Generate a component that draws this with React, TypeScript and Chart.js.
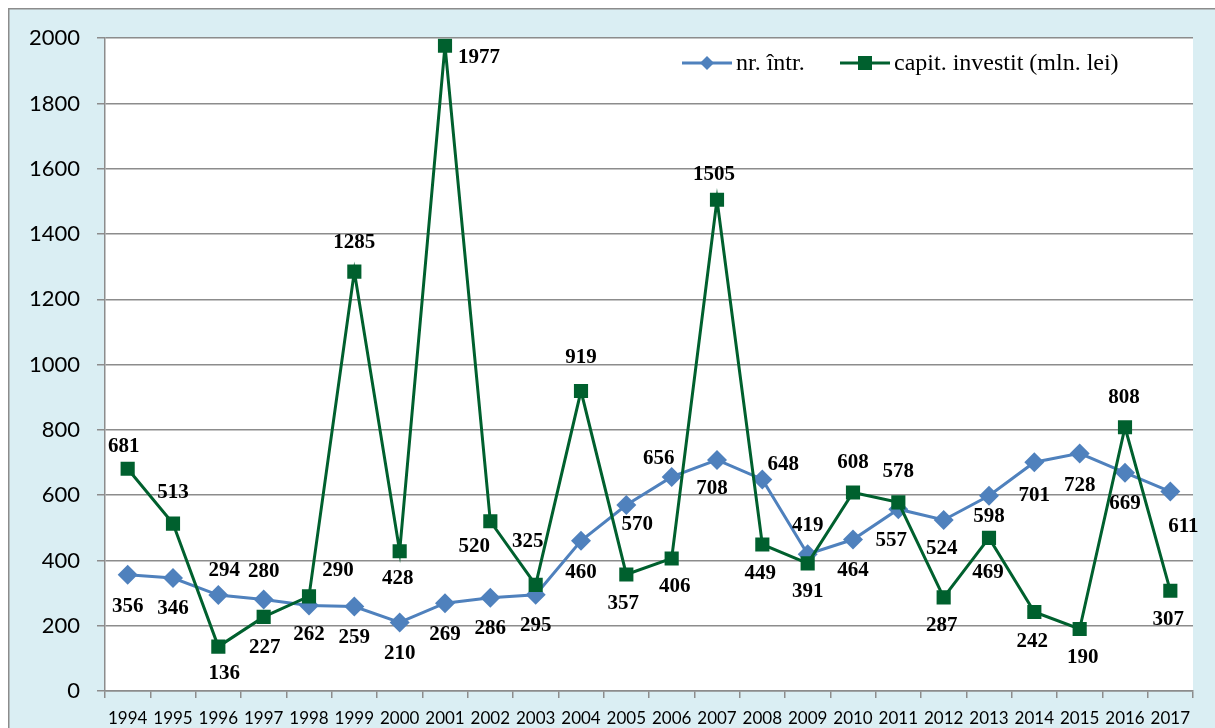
import { useEffect, useRef } from 'react';
import { Chart, registerables } from 'chart.js';

Chart.register(...registerables);

const years = ['1994', '1995', '1996', '1997', '1998', '1999', '2000', '2001', '2002', '2003', '2004', '2005', '2006', '2007', '2008', '2009', '2010', '2011', '2012', '2013', '2014', '2015', '2016', '2017'];
const nrIntr = [356, 346, 294, 280, 262, 259, 210, 269, 286, 295, 460, 570, 656, 708, 648, 419, 464, 557, 524, 598, 701, 728, 669, 611];
const capitInvestit = [681, 513, 136, 227, 290, 1285, 428, 1977, 520, 325, 919, 357, 406, 1505, 449, 391, 608, 578, 287, 469, 242, 190, 808, 307];
const seriesNames = ['nr. într.', 'capit. investit (mln. lei)'];
const yMin = 0;
const yMax = 2000;
const yStep = 200;

// label placement relative to each point [dx, dy]
const nrLabelOffsets: [number, number][] = [
  [0, 32], [0, 31], [6, -24], [0, -28], [0, 29], [0, 31], [0, 31], [0, 31], [0, 31], [0, 31],
  [0, 32], [11, 20], [-13, -18], [-5, 29], [21, -15], [0, -29], [0, 31], [-7, 31], [-2, 29], [0, 21],
  [0, 33], [0, 32], [0, 31], [13, 35],
];
const capLabelOffsets: [number, number][] = [
  [-4, -22], [0, -31], [6, 27], [1, 31], [29, -26], [0, -29], [-2, 27], [34, 12], [-16, 25], [-8, -43],
  [0, -33], [-3, 29], [3, 28], [-3, -25], [-2, 29], [0, 28], [0, -30], [0, -31], [-2, 28], [-1, 35],
  [-2, 30], [3, 29], [-1, -30], [-2, 29],
];

const BLUE = '#4F81BD';
const GREEN = '#00602E';
const GRID = '#8c8c8c';
const BG = '#DAEEF3';

const frame = {
  id: 'frame',
  beforeDraw(chart: any) {
    const { ctx, chartArea, width, height } = chart;
    ctx.save();
    ctx.fillStyle = BG;
    ctx.fillRect(0, 0, width, height);
    ctx.fillStyle = '#ffffff';
    ctx.fillRect(chartArea.left, chartArea.top, chartArea.right - chartArea.left, chartArea.bottom - chartArea.top);
    ctx.strokeStyle = GRID;
    ctx.lineWidth = 1.5;
    ctx.beginPath();
    ctx.moveTo(0, 0.75);
    ctx.lineTo(width, 0.75);
    ctx.moveTo(0.75, 0);
    ctx.lineTo(0.75, height);
    ctx.stroke();
    ctx.restore();
  },
};

const valueLabels = {
  id: 'valueLabels',
  afterDatasetsDraw(chart: any) {
    const { ctx } = chart;
    ctx.save();
    ctx.font = 'bold 21px "Liberation Serif", "Times New Roman", serif';
    ctx.fillStyle = '#000000';
    ctx.textAlign = 'center';
    ctx.textBaseline = 'middle';
    chart.data.datasets.forEach((ds: any, di: number) => {
      const meta = chart.getDatasetMeta(di);
      const offs: [number, number][] = ds.labelOffsets;
      meta.data.forEach((el: any, i: number) => {
        const [dx, dy] = offs[i] || [0, -25];
        ctx.fillText(String(ds.data[i]), el.x + dx, el.y + dy);
      });
    });
    ctx.restore();
  },
};

const customLegend = {
  id: 'customLegend',
  afterDraw(chart: any) {
    const { ctx } = chart;
    const y = 55;
    ctx.save();
    ctx.font = '24px "Liberation Serif", "Times New Roman", serif';
    ctx.textBaseline = 'middle';
    ctx.textAlign = 'left';
    // blue
    ctx.strokeStyle = BLUE;
    ctx.lineWidth = 3;
    ctx.beginPath();
    ctx.moveTo(674, y);
    ctx.lineTo(724, y);
    ctx.stroke();
    ctx.fillStyle = BLUE;
    ctx.beginPath();
    ctx.moveTo(699, y - 7);
    ctx.lineTo(706, y);
    ctx.lineTo(699, y + 7);
    ctx.lineTo(692, y);
    ctx.closePath();
    ctx.fill();
    ctx.fillStyle = '#000000';
    ctx.fillText(seriesNames[0], 728, y + 1);
    // green
    ctx.strokeStyle = GREEN;
    ctx.beginPath();
    ctx.moveTo(832, y);
    ctx.lineTo(882, y);
    ctx.stroke();
    ctx.fillStyle = GREEN;
    ctx.fillRect(850, y - 7, 14, 14);
    ctx.fillStyle = '#000000';
    ctx.fillText(seriesNames[1], 886, y + 1);
    ctx.restore();
  },
};

export default function App() {
  const ref = useRef<HTMLCanvasElement | null>(null);
  useEffect(() => {
    if (!ref.current) return;
    const chart = new Chart(ref.current, {
      type: 'line',
      data: {
        labels: years,
        datasets: [
          {
            label: seriesNames[1],
            data: capitInvestit,
            borderColor: GREEN,
            backgroundColor: GREEN,
            borderWidth: 3,
            pointStyle: 'rect',
            pointRadius: 10,
            pointBackgroundColor: GREEN,
            pointBorderColor: GREEN,
            pointBorderWidth: 0,
            tension: 0,
            labelOffsets: capLabelOffsets,
          } as any,
          {
            label: seriesNames[0],
            data: nrIntr,
            borderColor: BLUE,
            backgroundColor: BLUE,
            borderWidth: 3,
            pointStyle: 'rectRot',
            pointRadius: 10,
            pointBackgroundColor: BLUE,
            pointBorderColor: BLUE,
            pointBorderWidth: 0,
            tension: 0,
            labelOffsets: nrLabelOffsets,
          } as any,
        ],
      },
      options: {
        responsive: false,
        animation: false,
        devicePixelRatio: 1,
        layout: { padding: { left: 0, right: 22, top: 28, bottom: 0 } },
        plugins: {
          legend: { display: false },
          tooltip: { enabled: false },
          title: { display: false },
        },
        scales: {
          x: {
            type: 'category',
            offset: true,
            grid: {
              display: true,
              drawOnChartArea: false,
              drawTicks: true,
              tickLength: 7,
              offset: true,
              color: GRID,
              lineWidth: 1.5,
            },
            border: { display: true, color: GRID, width: 1.5 },
            ticks: {
              autoSkip: false,
              maxRotation: 0,
              minRotation: 0,
              padding: 10,
              color: '#000000',
              font: { family: 'Lato, "Open Sans", sans-serif', size: 17 },
            },
            afterFit: (scale: any) => { scale.height = 37; },
          },
          y: {
            min: yMin,
            max: yMax,
            grid: { color: GRID, lineWidth: 1.5, tickLength: 8, drawTicks: true },
            border: { display: true, color: GRID, width: 1.5 },
            ticks: {
              stepSize: yStep,
              padding: 17,
              color: '#000000',
              font: { family: 'Lato, "Open Sans", sans-serif', size: 22 },
              callback: (v: any) => String(v),
            },
            afterFit: (scale: any) => { scale.width = 97; },
          },
        },
      },
      plugins: [frame, valueLabels, customLegend],
    });
    return () => chart.destroy();
  }, []);

  return (
    <div style={{ position: 'fixed', left: 8, top: 8, width: 1207, height: 720, background: BG }}>
      <canvas ref={ref} width={1207} height={720} style={{ display: 'block', width: 1207, height: 720 }} />
    </div>
  );
}
